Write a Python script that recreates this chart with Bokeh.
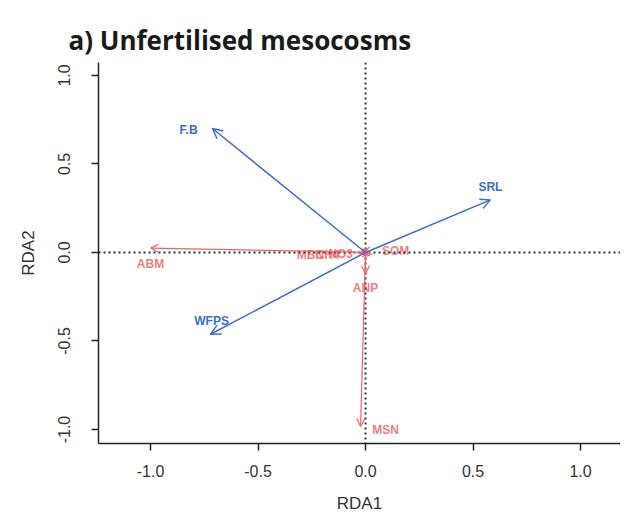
from bokeh.plotting import figure
from bokeh.models import (ColumnDataSource, Arrow, OpenHead, Span, Range1d,
                          FixedTicker, CustomJSTickFormatter)
from bokeh.core.properties import value
from bokeh.embed import file_html
from bokeh.resources import INLINE

# Explanatory variables (blue arrows)
env_names = ["F.B", "SRL", "WFPS"]
env_x = [-0.712, 0.581, -0.721]
env_y = [0.700, 0.297, -0.462]
env_lab_x = [-0.823, 0.581, -0.716]
env_lab_y = [0.694, 0.371, -0.388]

# Response variables (red arrows)
resp_names = ["ABM", "MBC", "NH4", "NO3", "SOM", "ANP", "MSN"]
resp_x = [-1.000, -0.030, -0.020, -0.010, 0.020, 0.000, -0.023]
resp_y = [0.025, -0.004, -0.004, -0.004, 0.002, -0.120, -0.983]
resp_lab_x = [-1.000, -0.256, -0.177, -0.116, 0.140, 0.000, 0.093]
resp_lab_y = [-0.065, -0.012, -0.012, -0.008, 0.010, -0.200, -1.000]

x_ticks = [-1.0, -0.5, 0.0, 0.5, 1.0]
y_ticks = [-1.0, -0.5, 0.0, 0.5, 1.0]

BLUE = "#3b6bd4"
RED = "#f06464"
AX = "#222222"

p = figure(width=620, height=515, output_backend="svg", toolbar_location=None,
           x_range=Range1d(-1.242, 1.186), y_range=Range1d(-1.079, 1.073),
           min_border_left=98, min_border_top=62, min_border_bottom=72, min_border_right=0,
           title="a) Unfertilised mesocosms")

p.title.text_font = "Open Sans"
p.title.text_font_style = "bold"
p.title.text_font_size = "26px"
p.title.text_color = "#1a1a1a"
p.title.align = "left"
p.title.offset = -30
p.title.standoff = 10

p.outline_line_color = None
p.xgrid.visible = False
p.ygrid.visible = False
p.background_fill_color = "white"

fmt = CustomJSTickFormatter(code="return tick.toFixed(1);")
for ax in (p.xaxis[0], p.yaxis[0]):
    ax.formatter = fmt
    ax.axis_line_color = AX
    ax.axis_line_width = 1.5
    ax.major_tick_line_color = AX
    ax.major_tick_line_width = 1.5
    ax.major_tick_out = 7
    ax.major_tick_in = 0
    ax.minor_tick_line_color = None
    ax.major_label_text_font = "Liberation Sans"
    ax.major_label_text_font_size = "16px"
    ax.major_label_text_color = "#333333"
    ax.axis_label_text_font = "Liberation Sans"
    ax.axis_label_text_font_size = "17px"
    ax.axis_label_text_font_style = "normal"
    ax.axis_label_text_color = "#333333"

p.xaxis.ticker = FixedTicker(ticks=x_ticks)
p.yaxis.ticker = FixedTicker(ticks=y_ticks)
p.xaxis.axis_label = "RDA1"
p.yaxis.axis_label = "RDA2"
p.xaxis.major_label_standoff = 14
p.xaxis.axis_label_standoff = 14
p.yaxis.major_label_orientation = "vertical"
p.yaxis.major_label_standoff = 21
p.yaxis.axis_label_standoff = 18

# dotted zero lines
p.add_layout(Span(location=0, dimension="width", line_color="#1f3a44",
                  line_width=2, line_dash="2 3"))
p.add_layout(Span(location=0, dimension="height", line_color="#1f3a44",
                  line_width=2, line_dash="2 3"))

# red response arrows
rsrc = ColumnDataSource(dict(x0=[0.0] * len(resp_x), y0=[0.0] * len(resp_y),
                             x1=resp_x, y1=resp_y))
p.add_layout(Arrow(end=OpenHead(size=8, line_color=RED, line_width=1.2),
                   x_start="x0", y_start="y0", x_end="x1", y_end="y1",
                   line_color=RED, line_width=1.2, source=rsrc))

# blue explanatory arrows
esrc = ColumnDataSource(dict(x0=[0.0] * len(env_x), y0=[0.0] * len(env_y),
                             x1=env_x, y1=env_y))
p.add_layout(Arrow(end=OpenHead(size=10, line_color=BLUE, line_width=1.5),
                   x_start="x0", y_start="y0", x_end="x1", y_end="y1",
                   line_color=BLUE, line_width=1.5, source=esrc))

p.text(x=resp_lab_x, y=resp_lab_y, text=resp_names, text_color=RED,
       text_font=value("Liberation Sans"), text_font_size="12px",
       text_font_style="bold", text_align="center", text_baseline="middle",
       text_alpha=0.85)
p.text(x=env_lab_x, y=env_lab_y, text=env_names, text_color=BLUE,
       text_font=value("Liberation Sans"), text_font_size="12px",
       text_font_style="bold", text_align="center", text_baseline="middle")

open("out.html", "w").write(file_html(p, INLINE))
